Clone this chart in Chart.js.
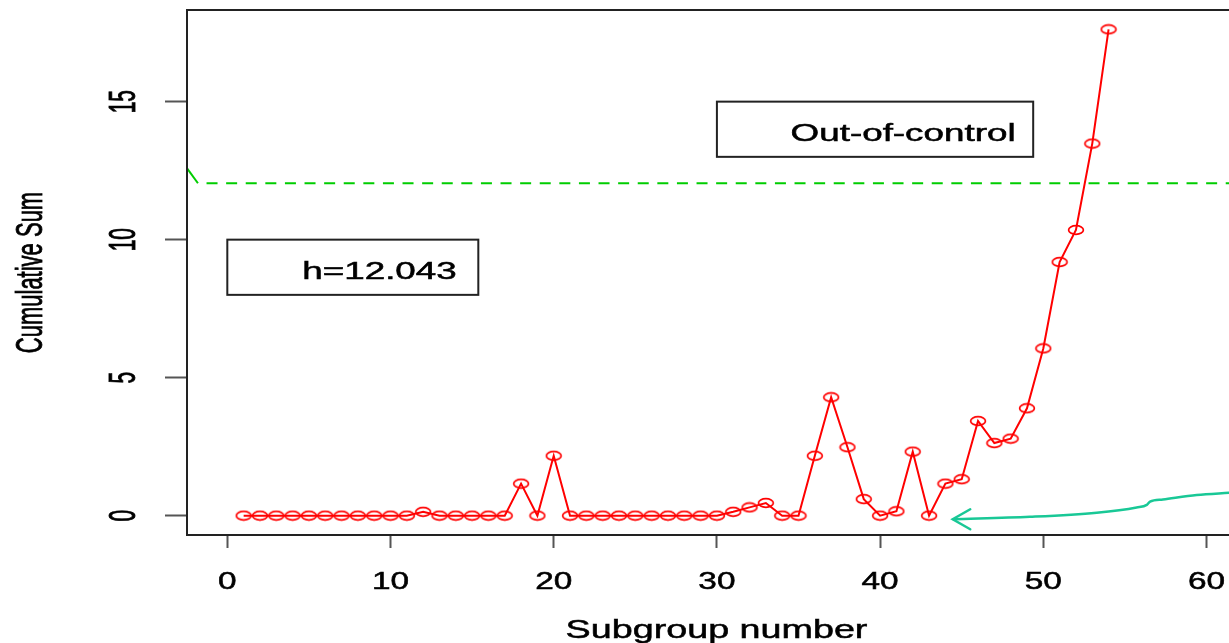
<!DOCTYPE html>
<html>
<head>
<meta charset="utf-8">
<title>CUSUM chart</title>
<script src="https://cdn.jsdelivr.net/npm/chart.js@4.4.1/dist/chart.umd.min.js"></script>
<style>
  html, body { margin: 0; padding: 0; background: #fff; overflow: hidden; }
  #wrap { width: 1260px; height: 643px; }
</style>
</head>
<body>
<div id="wrap"><canvas id="cusumChart" width="1260" height="643"></canvas></div>
<script>
// subgroup number and upper cumulative sum
const subgroups = [1, 2, 3, 4, 5, 6, 7, 8, 9, 10, 11, 12, 13, 14, 15, 16, 17, 18,
  19, 20, 21, 22, 23, 24, 25, 26, 27, 28, 29, 30, 31, 32, 33, 34, 35, 36,
  37, 38, 39, 40, 41, 42, 43, 44, 45, 46, 47, 48, 49, 50, 51, 52, 53, 54];
const cusum = [0, 0, 0, 0, 0, 0, 0, 0, 0, 0, 0, 0.14, 0, 0, 0, 0, 0, 1.16,
  0, 2.17, 0, 0, 0, 0, 0, 0, 0, 0, 0, 0, 0.14, 0.30, 0.46, 0, 0, 2.17,
  4.29, 2.48, 0.60, 0, 0.16, 2.32, 0, 1.16, 1.32, 3.43, 2.63, 2.79, 3.89, 6.06,
  9.19, 10.35, 13.48, 17.62];

// decision interval
const hValue = 12.043;
const hLabel = 'h=12.043';
// short lead-in of the limit line at the left edge
const limitLeadX = [-2.6, -1.8];
const limitLeadY = [12.69, hValue];
const limitX = [-1.8, 62.42];

// annotation arrow pointing at subgroup 43
const arrowX = [44.45, 49.18, 53.27, 55.72, 56.34, 56.54, 57.33, 59.40, 61.38, 62.42];
const arrowY = [-0.13, -0.04, 0.11, 0.30, 0.39, 0.51, 0.59, 0.75, 0.83, 0.87];

// text boxes
const boxLabels = ['Out-of-control', hLabel];
const boxX0 = [30, 0];
const boxX1 = [49.38, 15.38];
const boxY0 = [13, 8];
const boxY1 = [15, 10];
const boxTextX = [48.3, 14.06];

const xTicks = [0, 10, 20, 30, 40, 50, 60];
const yTicks = [0, 5, 10, 15];
const xTitle = 'Subgroup number';
const yTitle = 'Cumulative Sum';

const FONT = '"Liberation Sans", Arial, sans-serif';
const RED = '#ff0000';
const GREEN = '#00cd00';
const TEAL = '#19c896';

// open ellipse used as the point marker
function makeRing() {
  const c = document.createElement('canvas');
  c.width = 18;
  c.height = 12;
  const g = c.getContext('2d');
  g.strokeStyle = RED;
  g.lineWidth = 1.7;
  g.beginPath();
  g.ellipse(9, 6, 7.4, 4.3, 0, 0, Math.PI * 2);
  g.stroke();
  return c;
}

function stretchedText(ctx, text, x, y, opt) {
  ctx.save();
  ctx.translate(x, y);
  if (opt.rotate) ctx.rotate(opt.rotate);
  ctx.scale(opt.sx || 1, opt.sy || 1);
  ctx.font = opt.size + 'px ' + FONT;
  ctx.fillStyle = '#000';
  ctx.strokeStyle = '#000';
  ctx.lineWidth = 0.5;
  ctx.textAlign = opt.align || 'center';
  ctx.textBaseline = 'alphabetic';
  ctx.fillText(text, 0, 0);
  ctx.strokeText(text, 0, 0);
  ctx.restore();
}

const decorPlugin = {
  id: 'cusumDecor',
  afterDatasetsDraw(chart) {
    const ctx = chart.ctx;
    const xs = chart.scales.x;
    const ys = chart.scales.y;

    // arrow head
    const tx = xs.getPixelForValue(arrowX[0]);
    const ty = ys.getPixelForValue(arrowY[0]);
    ctx.save();
    ctx.strokeStyle = TEAL;
    ctx.lineWidth = 2.5;
    ctx.lineCap = 'round';
    ctx.beginPath();
    ctx.moveTo(tx + 17.5, ty - 10);
    ctx.lineTo(tx, ty);
    ctx.lineTo(tx + 17.5, ty + 10);
    ctx.stroke();
    ctx.restore();

    // legend-style boxes
    boxLabels.forEach((label, i) => {
      const l = xs.getPixelForValue(boxX0[i]);
      const r = xs.getPixelForValue(boxX1[i]);
      const t = ys.getPixelForValue(boxY1[i]);
      const b = ys.getPixelForValue(boxY0[i]);
      ctx.save();
      ctx.fillStyle = '#fff';
      ctx.fillRect(l, t, r - l, b - t);
      ctx.strokeStyle = '#222';
      ctx.lineWidth = 2;
      ctx.strokeRect(l, t, r - l, b - t);
      ctx.restore();
      stretchedText(ctx, label, xs.getPixelForValue(boxTextX[i]), (t + b) / 2 + 11.5,
        { size: 23, sx: 1.6, align: 'right' });
    });
  },
  afterDraw(chart) {
    const ctx = chart.ctx;
    const area = chart.chartArea;
    const xs = chart.scales.x;
    const ys = chart.scales.y;

    // plot frame
    ctx.save();
    ctx.strokeStyle = '#222';
    ctx.lineWidth = 2;
    ctx.strokeRect(area.left, area.top, area.right - area.left, area.bottom - area.top);
    ctx.restore();

    xTicks.forEach(v => {
      stretchedText(ctx, String(v), xs.getPixelForValue(v), 589, { size: 23, sx: 1.45 });
    });
    yTicks.forEach(v => {
      stretchedText(ctx, String(v), 135, ys.getPixelForValue(v),
        { size: 21, sy: 1.8, rotate: -Math.PI / 2 });
    });

    stretchedText(ctx, xTitle, (area.left + area.right) / 2, 638, { size: 26, sx: 1.45 });
    stretchedText(ctx, yTitle, 42, (area.top + area.bottom) / 2,
      { size: 22, sy: 1.72, rotate: -Math.PI / 2 });
  }
};

const ctx = document.getElementById('cusumChart').getContext('2d');
new Chart(ctx, {
  type: 'line',
  data: {
    datasets: [
      {
        label: 'CUSUM',
        data: subgroups.map((s, i) => ({ x: s, y: cusum[i] })),
        borderColor: RED,
        borderWidth: 2,
        pointStyle: makeRing(),
        pointRadius: 6,
        tension: 0,
        order: 1
      },
      {
        label: 'limit lead',
        data: limitLeadX.map((x, i) => ({ x: x, y: limitLeadY[i] })),
        borderColor: GREEN,
        borderWidth: 2,
        pointRadius: 0,
        order: 2
      },
      {
        label: 'h',
        data: limitX.map(x => ({ x: x, y: hValue })),
        borderColor: GREEN,
        borderWidth: 2,
        borderDash: [11, 8.6],
        borderDashOffset: 11,
        pointRadius: 0,
        order: 2
      },
      {
        label: 'arrow',
        data: arrowX.map((x, i) => ({ x: x, y: arrowY[i] })),
        borderColor: TEAL,
        borderWidth: 2.5,
        pointRadius: 0,
        cubicInterpolationMode: 'monotone',
        order: 3
      }
    ]
  },
  options: {
    responsive: false,
    animation: false,
    events: [],
    layout: { padding: { left: 165, top: 10, right: 14, bottom: 95 } },
    plugins: {
      legend: { display: false },
      tooltip: { enabled: false }
    },
    scales: {
      x: {
        type: 'linear',
        min: -2.47,
        max: 62.42,
        afterBuildTicks: s => { s.ticks = xTicks.map(v => ({ value: v })); },
        ticks: { display: false },
        border: { display: false },
        grid: {
          drawOnChartArea: false,
          drawTicks: true,
          tickLength: 13,
          tickColor: '#555',
          tickWidth: 2
        }
      },
      y: {
        type: 'linear',
        min: -0.70,
        max: 18.32,
        afterBuildTicks: s => { s.ticks = yTicks.map(v => ({ value: v })); },
        ticks: { display: false },
        border: { display: false },
        grid: {
          drawOnChartArea: false,
          drawTicks: true,
          tickLength: 22,
          tickColor: '#555',
          tickWidth: 2
        }
      }
    }
  },
  plugins: [decorPlugin]
});
</script>
</body>
</html>
